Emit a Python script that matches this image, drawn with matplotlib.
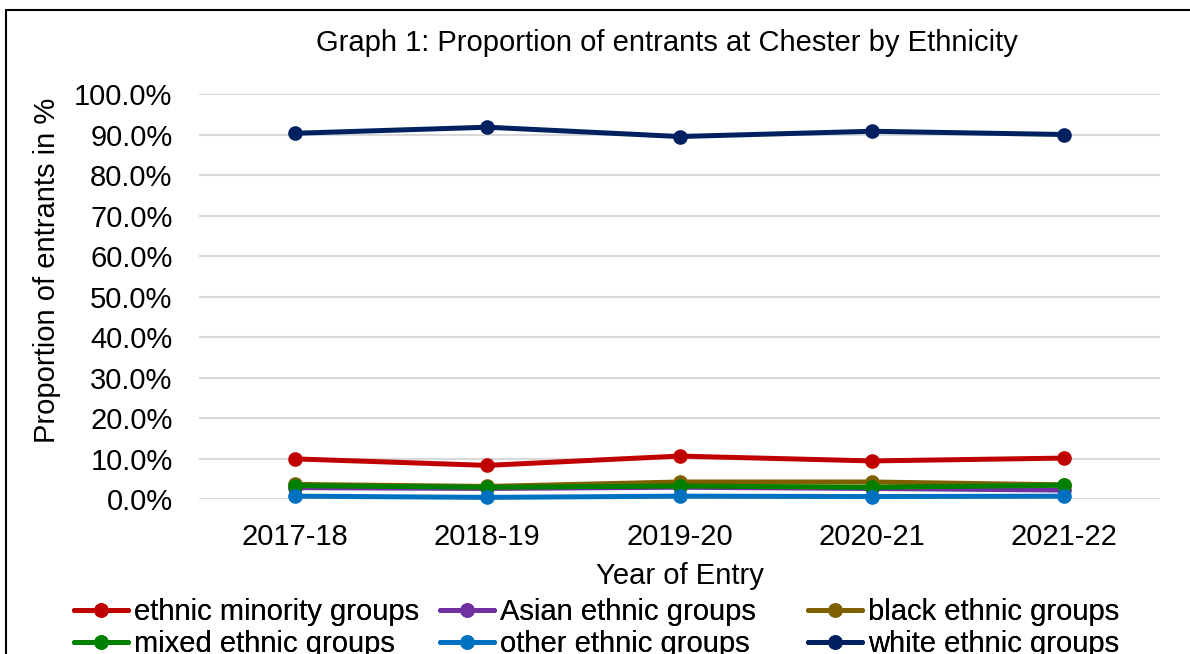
import matplotlib.pyplot as plt
from matplotlib.patches import Rectangle

plt.rcParams['font.family'] = ['Liberation Sans', 'DejaVu Sans']

years = ["2017-18", "2018-19", "2019-20", "2020-21", "2021-22"]

ethnic_minority = [9.9, 8.3, 10.6, 9.4, 10.1]
asian = [2.8, 2.6, 2.9, 2.6, 2.2]
black = [3.6, 3.1, 4.2, 4.2, 3.5]
mixed = [3.3, 2.9, 3.2, 2.9, 3.4]
other = [0.7, 0.4, 0.7, 0.6, 0.7]
white = [90.3, 91.8, 89.5, 90.8, 90.0]

series = [
    ("ethnic minority groups", ethnic_minority, "#C00000"),
    ("Asian ethnic groups", asian, "#7030A0"),
    ("black ethnic groups", black, "#7F6000"),
    ("mixed ethnic groups", mixed, "#008000"),
    ("other ethnic groups", other, "#0070C0"),
    ("white ethnic groups", white, "#002060"),
]

FS = 21
W, H = 1190, 654

fig = plt.figure(figsize=(W / 100, H / 100), dpi=100)
ax = fig.add_axes([199 / W, 1 - 499 / H, (1160 - 199) / W, (499 - 94) / H])

x = list(range(len(years)))
handles = []
for name, vals, col in series:
    ln, = ax.plot(x, vals, color=col, lw=3.6, marker="o", ms=9.5,
                  solid_capstyle="round", label=name, clip_on=False)
    handles.append(ln)

ax.set_xlim(-0.5, len(years) - 0.5)
ax.set_ylim(0, 100)
ax.set_yticks(range(0, 101, 10))
ax.set_yticklabels([f"{v:.1f}%" for v in range(0, 101, 10)])
ax.set_xticks(x)
ax.set_xticklabels(years)
ax.tick_params(axis="both", length=0, labelsize=FS)
ax.tick_params(axis="y", pad=19)
ax.tick_params(axis="x", pad=17)
ax.grid(axis="y", color="#D9D9D9", lw=1.5)
ax.set_axisbelow(True)
for s in ax.spines.values():
    s.set_visible(False)

fig.text(667 / W, 1 - 43 / H, "Graph 1: Proportion of entrants at Chester by Ethnicity",
         ha="center", va="center", fontsize=FS)
fig.text(47 / W, 1 - 270 / H, "Proportion of entrants in %", rotation=90,
         ha="center", va="center", fontsize=FS)
fig.text(680 / W, 1 - 576 / H, "Year of Entry", ha="center", va="center", fontsize=FS)

# legend in three fixed columns, two rows each
col_x = [74, 440, 808]
for i, cx in enumerate(col_x):
    hs = [handles[i], handles[i + 3]]
    leg = fig.legend(hs, [h.get_label() for h in hs], loc="upper left",
                     bbox_to_anchor=(cx / W, 1 - 598 / H), frameon=False,
                     fontsize=FS, handlelength=1.85, handletextpad=0.2,
                     borderpad=0, borderaxespad=0, labelspacing=0.15)
    fig.add_artist(leg)

# outer chart border, runs off the right and bottom edges
fig.add_artist(Rectangle((6 / W, -0.1), 1.2, 1 - 10.5 / H + 0.1,
                         transform=fig.transFigure, fill=False,
                         ec="black", lw=1.5))

fig.savefig("out.png", dpi=100)
